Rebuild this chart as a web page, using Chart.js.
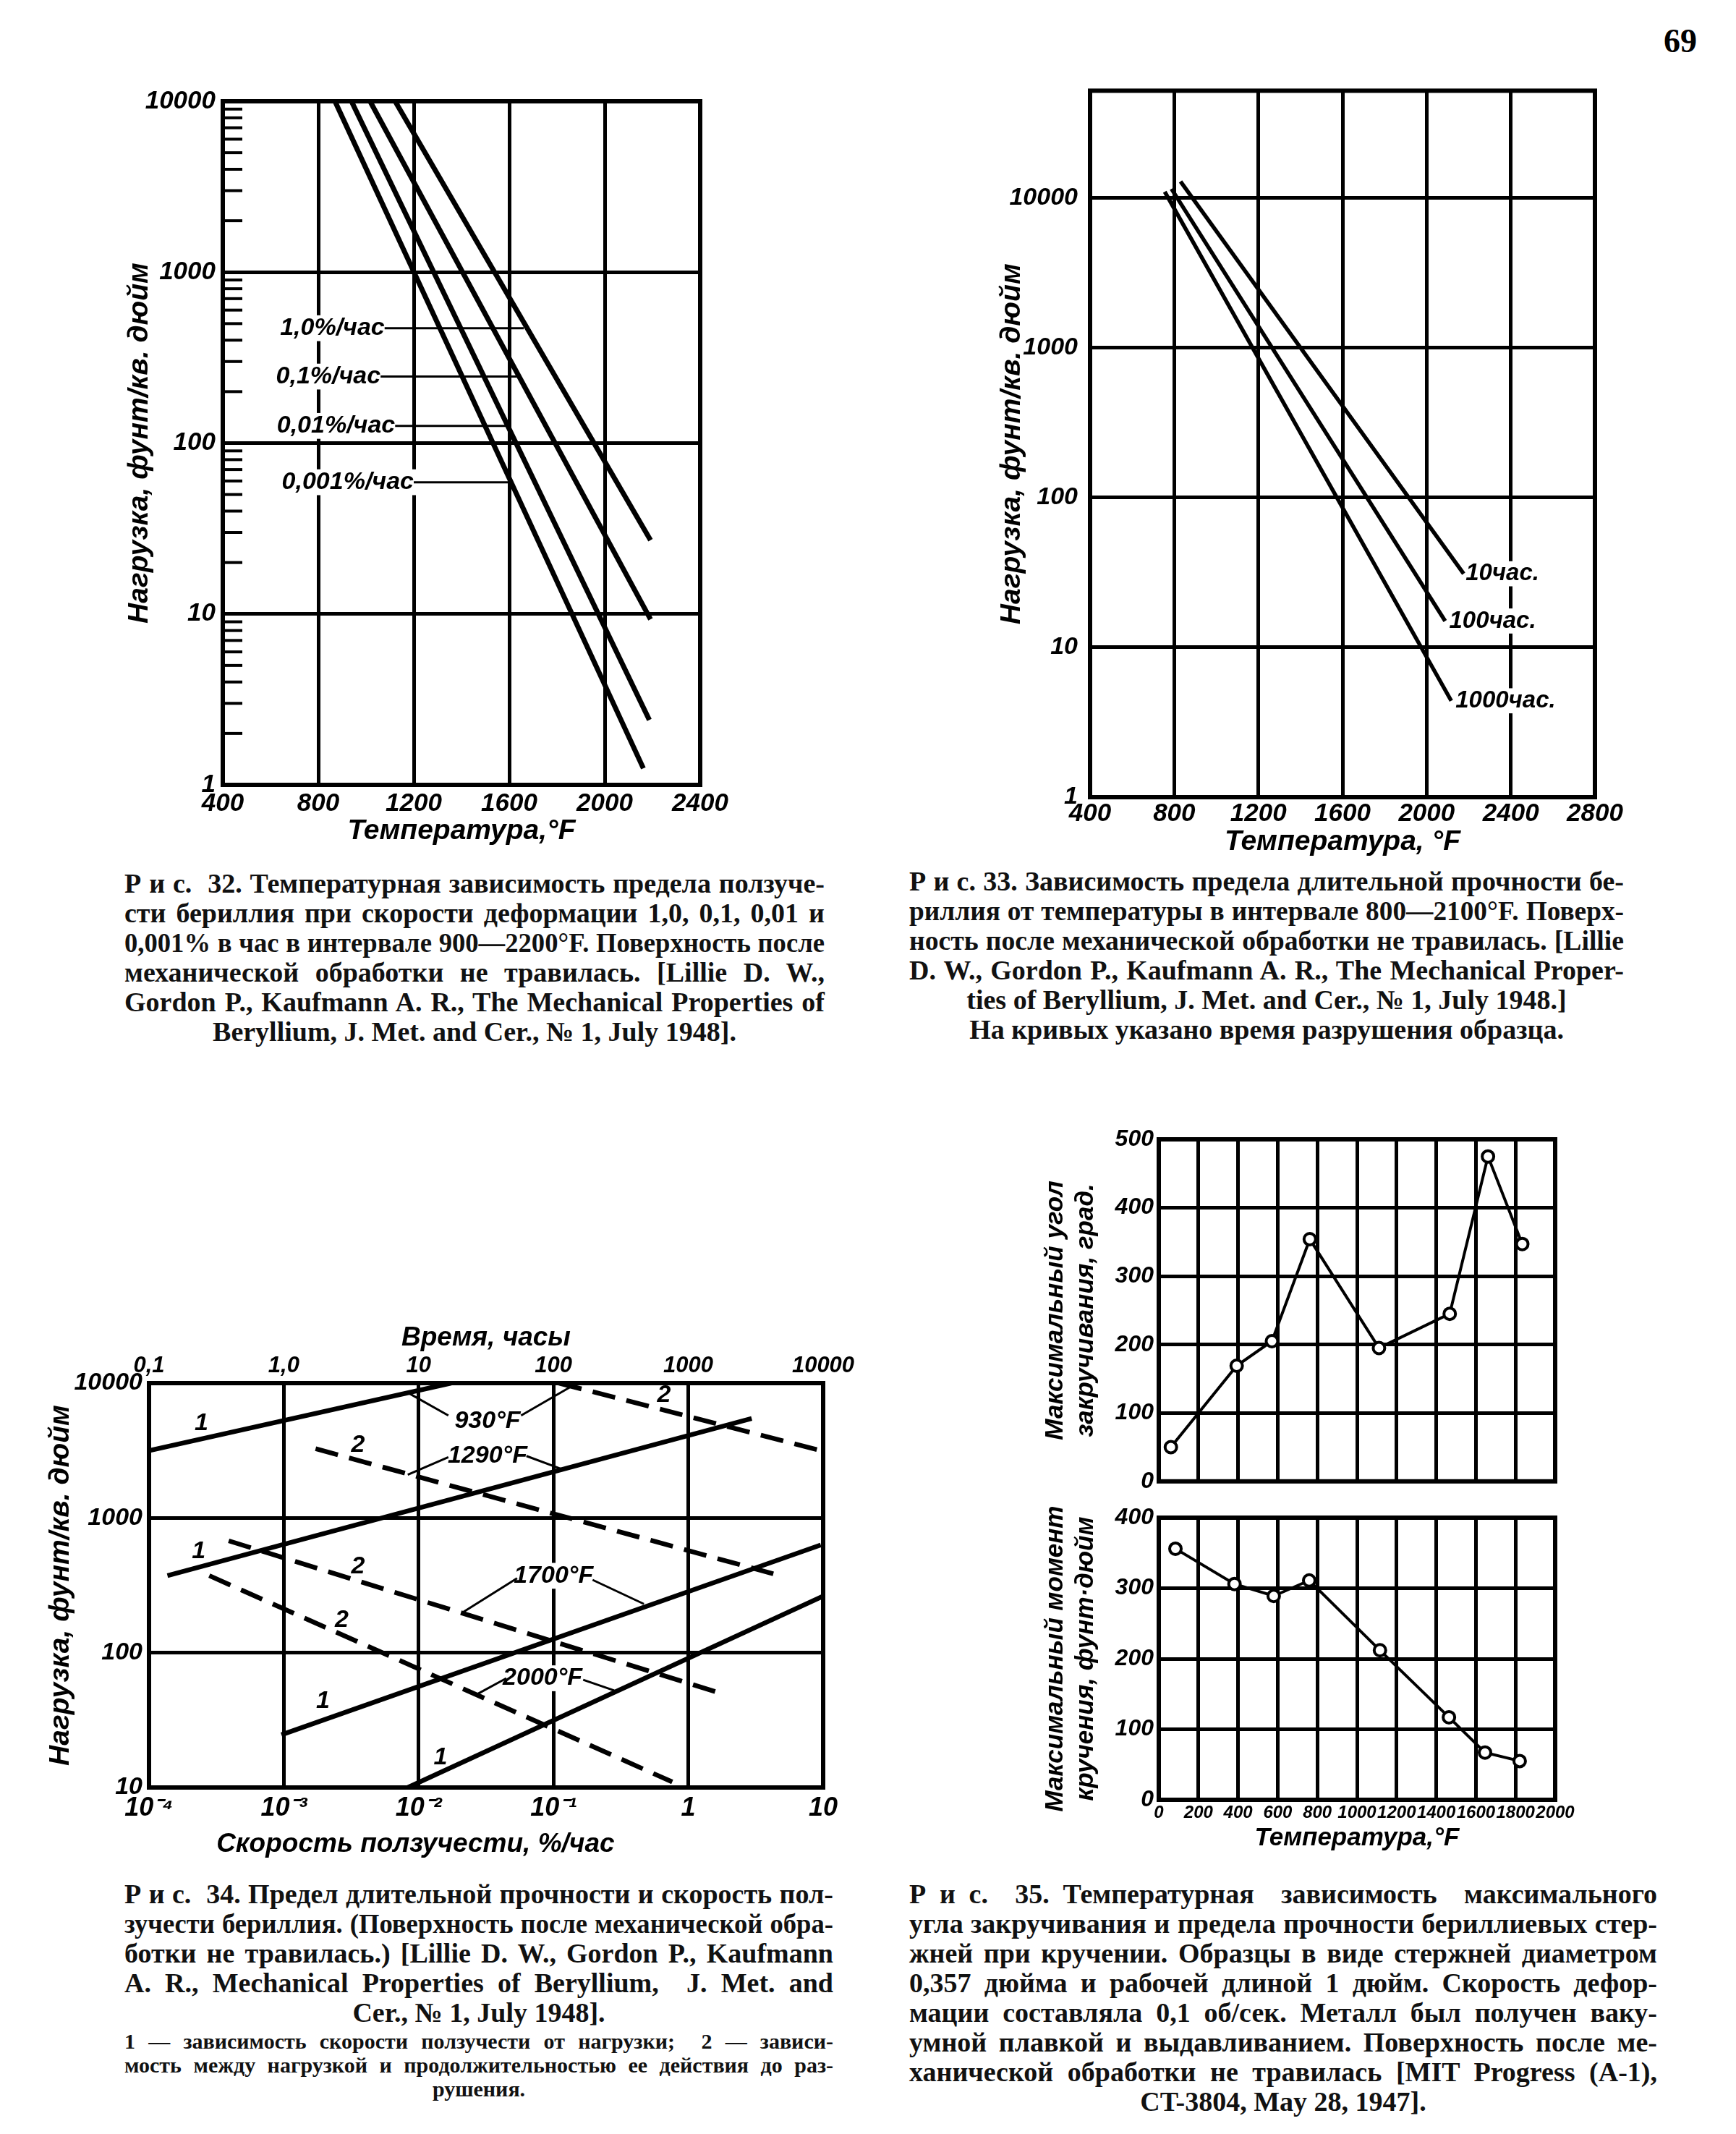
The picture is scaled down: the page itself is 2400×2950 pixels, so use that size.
<!DOCTYPE html>
<html lang="ru">
<head>
<meta charset="utf-8">
<title>Рис. 32–35</title>
<script src="https://cdn.jsdelivr.net/npm/chart.js@4.4.1/dist/chart.umd.min.js"></script>
<style>
  html, body { margin: 0; padding: 0; background: #fff; }
  body { position: relative; width: 2400px; height: 2950px; overflow: hidden; }
  canvas { position: absolute; }
  .cap { position: absolute; font-family: "Liberation Serif", serif; font-weight: bold; font-size: 38px; color: #111; }
  .cap div { height: 41px; line-height: 41px; text-align: justify; text-align-last: justify; transform-origin: 0 50%; overflow: visible; }
  .cap div.c { text-align: center; text-align-last: center; }
  .cap.small { font-size: 30px; }
  .cap.small div { height: 33px; line-height: 33px; }
  #page { position: absolute; left: 2300px; top: 30px; font: bold 46px "Liberation Serif", serif; }
</style>
</head>
<body>
<div id="page">69</div>

<canvas id="g32"></canvas>
<canvas id="g33"></canvas>
<canvas id="g34"></canvas>
<canvas id="g35a"></canvas>
<canvas id="g35b"></canvas>

<div class="cap" style="left:172px; top:1201px; width:968px;">
  <div>Р и с.&nbsp; 32. Температурная зависимость предела ползуче-</div>
  <div>сти бериллия при скорости деформации 1,0, 0,1, 0,01 и</div>
  <div>0,001% в час в интервале 900—2200°F. Поверхность после</div>
  <div>механической обработки не травилась. [Lillie D. W.,</div>
  <div>Gordon P., Kaufmann A. R., The Mechanical Properties of</div>
  <div class="c">Beryllium, J. Met. and Cer., № 1, July 1948].</div>
</div>

<div class="cap" style="left:1257px; top:1198px; width:988px;">
  <div>Р и с. 33. Зависимость предела длительной прочности бе-</div>
  <div>риллия от температуры в интервале 800—2100°F. Поверх-</div>
  <div>ность после механической обработки не травилась. [Lillie</div>
  <div>D. W., Gordon P., Kaufmann A. R., The Mechanical Proper-</div>
  <div class="c">ties of Beryllium, J. Met. and Cer., № 1, July 1948.]</div>
  <div class="c">На кривых указано время разрушения образца.</div>
</div>

<div class="cap" style="left:172px; top:2598px; width:980px;">
  <div>Р и с.&nbsp; 34. Предел длительной прочности и скорость пол-</div>
  <div>зучести бериллия. (Поверхность после механической обра-</div>
  <div>ботки не травилась.) [Lillie D. W., Gordon P., Kaufmann</div>
  <div>A. R., Mechanical Properties of Beryllium,&nbsp; J. Met. and</div>
  <div class="c">Cer., № 1, July 1948].</div>
</div>
<div class="cap small" style="left:172px; top:2805px; width:980px;">
  <div>1 — зависимость скорости ползучести от нагрузки;&nbsp; 2 — зависи-</div>
  <div>мость между нагрузкой и продолжительностью ее действия до раз-</div>
  <div class="c">рушения.</div>
</div>

<div class="cap" style="left:1257px; top:2598px; width:1034px;">
  <div>Р и с.&nbsp; 35. Температурная&nbsp; зависимость&nbsp; максимального</div>
  <div>угла закручивания и предела прочности бериллиевых стер-</div>
  <div>жней при кручении. Образцы в виде стержней диаметром</div>
  <div>0,357 дюйма и рабочей длиной 1 дюйм. Скорость дефор-</div>
  <div>мации составляла 0,1 об/сек. Металл был получен ваку-</div>
  <div>умной плавкой и выдавливанием. Поверхность после ме-</div>
  <div>ханической обработки не травилась [MIT Progress (A-1),</div>
  <div class="c">CT-3804, May 28, 1947].</div>
</div>

<script>
// ---------- Рис. 32: предел ползучести ----------
var temp32Ticks = [400, 800, 1200, 1600, 2000, 2400];
var load32Ticks = ['1', '10', '100', '1000', '10000'];
var rate32Names = ['1,0%/час', '0,1%/час', '0,01%/час', '0,001%/час'];
var temp32From = [1122, 1017, 939, 870];
var load32From = [10000, 10000, 10000, 10000];
var temp32To = [2192, 2192, 2187, 2162];
var load32To = [27, 9.3, 2.4, 1.25];
var tag32Temp = [1078, 1061, 1122, 1200];
var tag32Load = [470, 245, 126, 59];
var tag32Reach = [1661, 1644, 1591, 1600];

// ---------- Рис. 33: длительная прочность ----------
var temp33Ticks = [400, 800, 1200, 1600, 2000, 2400, 2800];
var load33Ticks = ['1', '10', '100', '1000', '10000'];
var time33Names = ['10час.', '100час.', '1000час.'];
var temp33From = [830, 787, 755];
var load33From = [12900, 11500, 11000];
var temp33To = [2176, 2088, 2117];
var load33To = [31, 15, 4.4];
var tag33Temp = [2185, 2107, 2137];

// ---------- Рис. 34: прочность и скорость ползучести ----------
var rate34Ticks = ['10⁻⁴', '10⁻³', '10⁻²', '10⁻¹', '1', '10'];
var time34Ticks = ['0,1', '1,0', '10', '100', '1000', '10000'];
var load34Ticks = ['10', '100', '1000', '10000'];
var temp34Names = ['930°F', '1290°F', '1700°F', '2000°F'];
// кривые 1 (нижняя шкала, %/час)
var rate34From = [0.0001, 0.000137, 0.00096, 0.0083];
var creep34From = [3160, 373, 24.6, 10];
var rate34To = [0.0174, 2.95, 9.6, 10];
var creep34To = [10000, 5460, 630, 263];
// кривые 2 (верхняя шкала, часы)
var time34From = [110, 1.72, 0.39, 0.28];
var rupt34From = [10000, 3260, 676, 373];
var time34To = [9600, 4470, 1740, 760];
var rupt34To = [3160, 380, 50, 11];
// подписи температур и выноски
var name34Rate = [0.0324, 0.0324, 0.1, 0.083];
var name34Load = [5250, 2880, 372, 64.6];
var leftFromRate = [0.0166, 0.0166, 0.0537, 0.0447];
var leftFromLoad = [5750, 2820, 357, 64.6];
var leftToRate = [0.0083, 0.0083, 0.0214, 0.0269];
var leftToLoad = [8500, 2090, 200, 49];
var rightFromRate = [0.0575, 0.063, 0.195, 0.166];
var rightFromLoad = [5750, 2880, 347, 63];
var rightToRate = [0.138, 0.115, 0.468, 0.282];
var rightToLoad = [9550, 2300, 230, 52.5];
var curveNo = ['1', '2', '2', '1', '2', '2', '1', '1'];
var curveNoRate = [0.000245, 0.66, 0.00355, 0.000234, 0.00355, 0.00269, 0.00195, 0.0145];
var curveNoLoad = [5010, 8130, 3470, 562, 437, 174, 43.7, 16.6];

// ---------- Рис. 35: кручение ----------
var temp35Ticks = [0, 200, 400, 600, 800, 1000, 1200, 1400, 1600, 1800, 2000];
var angle35Ticks = [0, 100, 200, 300, 400, 500];
var torque35Ticks = [0, 100, 200, 300, 400];
var temp35A = [61, 393, 571, 762, 1111, 1468, 1661, 1834];
var angle35 = [50, 169, 205, 354, 195, 245, 475, 347];
var temp35B = [84, 382, 580, 759, 1116, 1464, 1646, 1821];
var torque35 = [356, 306, 289, 311, 212, 117, 67, 55];

var BLACK = '#000';
function font(size) { return { family: 'Liberation Sans', size: size, style: 'italic', weight: 'bold', lineHeight: 1.2 }; }
function cssFont(size) { return 'italic bold ' + size + 'px "Liberation Sans"'; }

function setBox(id, b) {
  var c = document.getElementById(id);
  var w = b.r - b.l + b.yW + b.pr, h = b.b - b.t + b.pt + b.topH + b.xH;
  c.width = w; c.height = h;
  c.style.width = w + 'px'; c.style.height = h + 'px';
  c.style.left = (b.l - b.yW) + 'px';
  c.style.top = (b.t - b.pt - b.topH) + 'px';
  return c;
}

function axis(o) {
  return {
    type: o.type, position: o.position, min: o.min, max: o.max,
    afterBuildTicks: function (s) { s.ticks = o.ticks.map(function (v) { return { value: v }; }); },
    afterFit: function (s) { if (s.isHorizontal()) s.height = o.size; else s.width = o.size; },
    grid: { display: o.grid !== false, color: BLACK, lineWidth: o.gridWidth || 5, drawTicks: false },
    border: { display: false },
    ticks: {
      display: !!o.labels, color: BLACK, font: font(o.fontSize || 33), padding: o.pad || 0,
      maxRotation: 0, minRotation: 0, autoSkip: false,
      callback: function (v, i) { return o.labels ? o.labels[i] : ''; }
    },
    title: { display: !!o.title, text: o.title, color: BLACK, font: font(o.titleSize || 36), padding: o.titlePad || { top: 0, bottom: 0 } }
  };
}

function opts(scales, b) {
  return {
    responsive: false, animation: false, devicePixelRatio: 1, events: [],
    layout: { padding: { top: b.pt, right: b.pr, left: 0, bottom: 0 } },
    plugins: { legend: { display: false }, tooltip: { enabled: false } },
    scales: scales
  };
}

function seg(x1, y1, x2, y2, width, dash, xAxisID) {
  return {
    data: [{ x: x1, y: y1 }, { x: x2, y: y2 }],
    borderColor: BLACK, borderWidth: width, borderDash: dash || [], borderCapStyle: 'butt',
    pointRadius: 0, fill: false, tension: 0, xAxisID: xAxisID || 'x', yAxisID: 'y'
  };
}

function frame(width) {
  return {
    id: 'frame',
    beforeDatasetsDraw: function (chart) {
      var a = chart.chartArea, ctx = chart.ctx;
      ctx.save();
      ctx.strokeStyle = BLACK; ctx.lineWidth = width;
      ctx.strokeRect(a.left, a.top, a.right - a.left, a.bottom - a.top);
      ctx.restore();
    }
  };
}

// подписи на поле графика (в координатах осей)
function notes(items) {
  function pos(chart, it) {
    return [chart.scales[it.axis || 'x'].getPixelForValue(it.x), chart.scales.y.getPixelForValue(it.y)];
  }
  return {
    id: 'notes',
    beforeDatasetsDraw: function (chart) {
      var ctx = chart.ctx;
      items.forEach(function (it) {
        if (!it.bg) return;
        var p = pos(chart, it);
        ctx.save();
        ctx.font = cssFont(it.size);
        var w = ctx.measureText(it.text).width + 10, h = it.size * 1.05;
        var x0 = it.align === 'right' ? p[0] - w + 5 : it.align === 'left' ? p[0] - 5 : p[0] - w / 2;
        ctx.fillStyle = '#fff';
        ctx.fillRect(x0, p[1] - h / 2, w, h);
        ctx.restore();
      });
    },
    afterDatasetsDraw: function (chart) {
      var ctx = chart.ctx;
      items.forEach(function (it) {
        var p = pos(chart, it);
        ctx.save();
        ctx.font = cssFont(it.size);
        ctx.fillStyle = BLACK;
        ctx.textAlign = it.align || 'center';
        ctx.textBaseline = 'middle';
        ctx.fillText(it.text, p[0], p[1]);
        ctx.restore();
      });
    }
  };
}

// ---------- Рис. 32 ----------
var minor32 = [];
[1, 10, 100, 1000].forEach(function (d) { for (var m = 2; m <= 9; m++) minor32.push(m * d); });
var minorTicks32 = {
  id: 'minorTicks',
  beforeDatasetsDraw: function (chart) {
    var y = chart.scales.y, a = chart.chartArea, ctx = chart.ctx;
    ctx.save();
    ctx.strokeStyle = BLACK; ctx.lineWidth = 4;
    minor32.forEach(function (v) {
      var py = y.getPixelForValue(v);
      ctx.beginPath(); ctx.moveTo(a.left, py); ctx.lineTo(a.left + 27, py); ctx.stroke();
    });
    ctx.restore();
  }
};

var b32 = { l: 308, t: 140, r: 968, b: 1085, yW: 158, xH: 88, pt: 40, pr: 50, topH: 0 };
var ds32 = [], notes32 = [];
rate32Names.forEach(function (n, i) {
  ds32.push(seg(temp32From[i], load32From[i], temp32To[i], load32To[i], 7));
  ds32.push(seg(tag32Temp[i], tag32Load[i], tag32Reach[i], tag32Load[i], 3));
  notes32.push({ text: n, x: tag32Temp[i], y: tag32Load[i], align: 'right', size: 34, bg: true });
});
new Chart(setBox('g32', b32), {
  type: 'line',
  data: { datasets: ds32 },
  options: opts({
    x: axis({ type: 'linear', position: 'bottom', min: 400, max: 2400, ticks: temp32Ticks, labels: temp32Ticks.map(String),
      size: b32.xH, pad: 5, fontSize: 35, title: 'Температура,°F', titleSize: 39 }),
    y: axis({ type: 'logarithmic', position: 'left', min: 1, max: 10000, ticks: [1, 10, 100, 1000, 10000], labels: load32Ticks,
      size: b32.yW, pad: 10, fontSize: 35, title: 'Нагрузка, фунт/кв. дюйм', titleSize: 39, titlePad: { top: 20, bottom: 0 } })
  }, b32),
  plugins: [frame(6), minorTicks32, notes(notes32)]
});

// ---------- Рис. 33 ----------
var b33 = { l: 1507, t: 118, r: 2205, b: 1102, yW: 177, xH: 86, pt: 30, pr: 60, topH: 0 };
var ds33 = [], notes33 = [];
time33Names.forEach(function (n, i) {
  ds33.push(seg(temp33From[i], load33From[i], temp33To[i], load33To[i], 5.5));
  notes33.push({ text: n, x: tag33Temp[i], y: load33To[i], align: 'left', size: 33, bg: true });
});
new Chart(setBox('g33', b33), {
  type: 'line',
  data: { datasets: ds33 },
  options: opts({
    x: axis({ type: 'linear', position: 'bottom', min: 400, max: 2800, ticks: temp33Ticks, labels: temp33Ticks.map(String),
      size: b33.xH, pad: 2, fontSize: 35, title: 'Температура, °F', titleSize: 39 }),
    y: axis({ type: 'logarithmic', position: 'left', min: 1, max: 52000, ticks: [1, 10, 100, 1000, 10000], labels: load33Ticks,
      size: b33.yW, pad: 17, fontSize: 34, title: 'Нагрузка, фунт/кв. дюйм', titleSize: 39, titlePad: { top: 46, bottom: 0 } })
  }, b33),
  plugins: [frame(6), notes(notes33)]
});

// ---------- Рис. 34 ----------
var b34 = { l: 206, t: 1912, r: 1138, b: 2471, yW: 166, xH: 101, pt: 0, pr: 55, topH: 97 };
var ds34 = [], notes34 = [];
temp34Names.forEach(function (n, i) {
  ds34.push(seg(rate34From[i], creep34From[i], rate34To[i], creep34To[i], 6.5));
  ds34.push(seg(time34From[i], rupt34From[i], time34To[i], rupt34To[i], 6.5, [32, 16], 'xTop'));
  ds34.push(seg(leftFromRate[i], leftFromLoad[i], leftToRate[i], leftToLoad[i], 3));
  ds34.push(seg(rightFromRate[i], rightFromLoad[i], rightToRate[i], rightToLoad[i], 3));
  notes34.push({ text: n, x: name34Rate[i], y: name34Load[i], size: 34, bg: true });
});
curveNo.forEach(function (n, i) {
  notes34.push({ text: n, x: curveNoRate[i], y: curveNoLoad[i], size: 34 });
});
new Chart(setBox('g34', b34), {
  type: 'line',
  data: { datasets: ds34 },
  options: opts({
    x: axis({ type: 'logarithmic', position: 'bottom', min: 0.0001, max: 10, ticks: [0.0001, 0.001, 0.01, 0.1, 1, 10], labels: rate34Ticks,
      size: b34.xH, pad: 7, fontSize: 36, title: 'Скорость ползучести, %/час                   ', titleSize: 37 }),
    xTop: axis({ type: 'logarithmic', position: 'top', min: 0.1, max: 10000, ticks: [0.1, 1, 10, 100, 1000, 10000], labels: time34Ticks,
      size: b34.topH, pad: 5, fontSize: 31, title: 'Время, часы', titleSize: 37, titlePad: { top: 13, bottom: 0 }, grid: false }),
    y: axis({ type: 'logarithmic', position: 'left', min: 10, max: 10000, ticks: [10, 100, 1000, 10000], labels: load34Ticks,
      size: b34.yW, pad: 9, fontSize: 34, title: 'Нагрузка, фунт/кв. дюйм', titleSize: 39, titlePad: { top: 21, bottom: 0 } })
  }, b34),
  plugins: [frame(6), notes(notes34)]
});

// ---------- Рис. 35 ----------
function markers(xs, ys) {
  return {
    data: xs.map(function (x, i) { return { x: x, y: ys[i] }; }),
    borderColor: BLACK, borderWidth: 4, tension: 0, fill: false,
    pointRadius: 8, pointBorderWidth: 4, pointBackgroundColor: '#fff', pointBorderColor: BLACK
  };
}
var b35a = { l: 1602, t: 1575, r: 2150, b: 2062, yW: 182, xH: 12, pt: 30, pr: 40, topH: 0 };
new Chart(setBox('g35a', b35a), {
  type: 'line',
  data: { datasets: [markers(temp35A, angle35)] },
  options: opts({
    x: axis({ type: 'linear', position: 'bottom', min: 0, max: 2000, ticks: temp35Ticks, size: b35a.xH }),
    y: axis({ type: 'linear', position: 'left', min: 0, max: 500, ticks: angle35Ticks, labels: angle35Ticks.map(String),
      size: b35a.yW, pad: 7, fontSize: 32, title: ['Максимальный угол', 'закручивания, град.'], titleSize: 35, titlePad: { top: 18, bottom: 0 } })
  }, b35a),
  plugins: [frame(6)]
});

var b35b = { l: 1602, t: 2098, r: 2150, b: 2488, yW: 182, xH: 74, pt: 30, pr: 40, topH: 0 };
new Chart(setBox('g35b', b35b), {
  type: 'line',
  data: { datasets: [markers(temp35B, torque35)] },
  options: opts({
    x: axis({ type: 'linear', position: 'bottom', min: 0, max: 2000, ticks: temp35Ticks, labels: temp35Ticks.map(String),
      size: b35b.xH, pad: 4, fontSize: 24, title: 'Температура,°F', titleSize: 35 }),
    y: axis({ type: 'linear', position: 'left', min: 0, max: 400, ticks: torque35Ticks, labels: torque35Ticks.map(String),
      size: b35b.yW, pad: 7, fontSize: 32, title: ['Максимальный момент', 'кручения, фунт·дюйм'], titleSize: 35, titlePad: { top: 18, bottom: 0 } })
  }, b35b),
  plugins: [frame(6)]
});

// строки подписей: сжать по ширине, если не помещаются
document.querySelectorAll('.cap div').forEach(function (d) {
  var w = d.parentNode.clientWidth;
  d.style.display = 'inline-block'; d.style.whiteSpace = 'nowrap';
  var nw = Math.ceil(d.getBoundingClientRect().width) + 4;
  d.style.display = '';
  if (nw > w) {
    d.style.width = nw + 'px';
    d.style.transform = 'scaleX(' + (w / nw) + ')';
  }
  if (!d.classList.contains('c')) d.style.whiteSpace = 'normal';
  if (d.scrollHeight > d.clientHeight + 2) {
    d.style.whiteSpace = 'nowrap';
  }
});
</script>
</body>
</html>
